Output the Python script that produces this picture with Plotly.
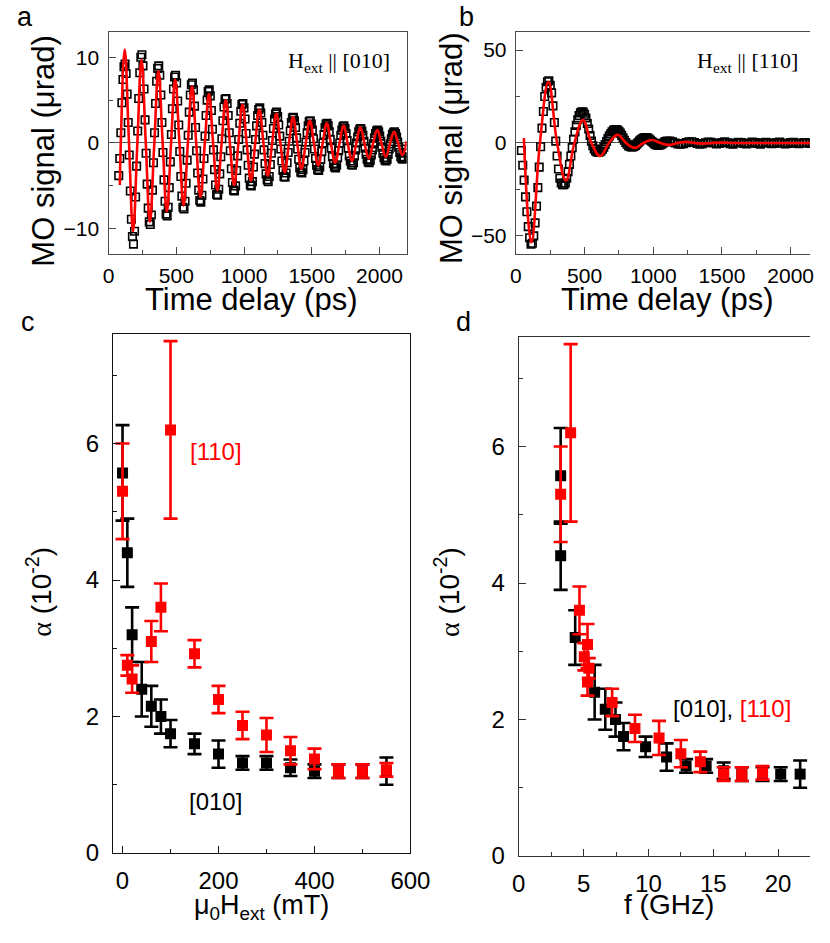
import plotly.graph_objects as go

W, H = 830, 943


def px(x):
    return x / W


def py(y):
    return 1 - y / H


# ---------------- Panel a: H_ext || [010] ----------------
a_t0 = 75.0
a_dt = 7.77
a_signal = [
    -3.8, -1.8, 1.2, 4.7, 7.4, 8.9, 9.2, 8.1, 5.7, 2.4, -1.4, -5.6, -8.9, -10.9, -11.8, -10.3,
    -6.3, -2.7, 1.4, 5.2, 8.2, 10.0, 10.3, 9.0, 6.3, 2.7, -1.2, -4.8, -7.6, -9.2, -9.5, -8.4,
    -5.5, -2.3, 1.2, 4.6, 7.2, 8.7, 9.0, 7.9, 5.6, 2.4, -1.1, -4.3, -6.8, -8.3, -8.5, -7.5,
    -5.2, -2.2, 1.0, 4.0, 6.3, 7.7, 7.9, 7.0, 4.9, 2.1, -1.0, -3.9, -6.2, -7.5, -7.7, -6.8,
    -4.7, -2.0, 0.9, 3.6, 5.6, 6.8, 7.0, 6.2, 4.3, 1.8, -0.9, -3.5, -5.5, -6.7, -6.9, -6.1,
    -4.2, -1.8, 0.8, 3.2, 5.0, 6.0, 6.2, 5.5, 3.8, 1.6, -0.8, -3.1, -4.9, -6.0, -6.1, -5.4,
    -3.6, -1.6, 0.5, 2.6, 4.2, 5.1, 5.2, 4.6, 3.2, 1.2, -0.9, -3.0, -4.6, -5.5, -5.6, -5.0,
    -3.2, -1.5, 0.4, 2.3, 3.7, 4.5, 4.6, 4.1, 2.8, 1.1, -0.8, -2.6, -4.1, -4.9, -5.0, -4.5,
    -2.8, -1.3, 0.4, 2.0, 3.2, 3.9, 4.1, 3.5, 2.4, 0.9, -0.8, -2.4, -3.6, -4.3, -4.5, -3.9,
    -2.5, -1.2, 0.3, 1.7, 2.8, 3.4, 3.6, 3.1, 2.1, 0.8, -0.7, -2.1, -3.2, -3.9, -4.0, -3.5,
    -2.3, -1.1, 0.2, 1.4, 2.4, 2.9, 3.0, 2.6, 1.8, 0.6, -0.7, -1.9, -2.9, -3.4, -3.5, -3.1,
    -2.1, -1.1, 0.1, 1.2, 2.0, 2.5, 2.6, 2.2, 1.5, 0.5, -0.7, -1.8, -2.6, -3.1, -3.2, -2.8,
    -1.9, -1.0, 0.0, 1.0, 1.8, 2.2, 2.3, 2.0, 1.3, 0.4, -0.6, -1.6, -2.4, -2.8, -2.9, -2.6,
    -1.7, -0.9, 0.0, 0.9, 1.5, 1.9, 2.0, 1.7, 1.1, 0.3, -0.6, -1.5, -2.1, -2.5, -2.6, -2.3,
    -1.5, -0.8, 0.0, 0.7, 1.3, 1.6, 1.7, 1.4, 0.9, 0.2, -0.6, -1.3, -1.9, -2.2, -2.3, -2.0,
    -1.4, -0.8, -0.1, 0.6, 1.1, 1.4, 1.5, 1.3, 0.8, 0.2, -0.5, -1.2, -1.7, -2.0, -2.1, -1.9,
    -1.3, -0.7, -0.1, 0.5, 1.0, 1.2, 1.3, 1.1, 0.7, 0.1, -0.5, -1.1, -1.6, -1.8, -1.9, -1.7,
    -1.2, -0.7,
]
a_time = [a_t0 + a_dt * i for i in range(len(a_signal))]

a_fit_time = [83, 90, 119, 150, 181, 212, 243, 274, 305, 337, 368, 399, 430, 461,
              492, 523, 554, 585, 616, 647, 678, 710, 741, 772, 803, 834, 865, 896,
              927, 958, 989, 1020, 1051, 1082, 1113, 1144, 1175, 1207, 1238, 1269,
              1300, 1331, 1362, 1393, 1424, 1455, 1486, 1517, 1548, 1580, 1611, 1642,
              1673, 1704, 1735, 1766, 1797, 1828, 1859, 1890, 1921, 1952, 1984, 2015,
              2046, 2077, 2108, 2139, 2170, 2200]
a_fit_signal = [-4.9, 0.0, 10.9, 0.3, -10.3, -0.2, 9.7, 0.2, -9.2, -0.2, 8.4, 0.1, -8.0, -0.1,
                7.4, 0.0, -7.3, -0.1, 6.6, 0.0, -6.3, -0.1, 5.7, -0.1, -5.5, -0.1, 5.0, -0.1,
                -4.9, -0.1, 4.5, -0.1, -4.4, -0.1, 3.9, -0.1, -3.8, -0.1, 3.4, -0.1,
                -3.4, -0.1, 3.0, -0.1, -3.0, -0.1, 2.6, -0.1, -2.6, -0.1, 2.3, -0.1,
                -2.3, -0.1, 2.0, -0.1, -2.1, -0.1, 1.8, -0.1, -1.8, -0.1, 1.5, -0.1,
                -1.6, -0.1, 1.3, -0.1, -1.4, 0.2]

# ---------------- Panel b: H_ext || [110] ----------------
b_early_t0 = 40.0
b_early_dt = 10.0
b_early_signal = [
    -4, -12, -20, -29, -37, -45, -51, -54.5, -54, -50,
    -43, -34, -24, -13, -2, 8, 17, 25, 30, 33,
    33.5, 31, 27, 20, 11, 1, -7, -14, -19, -21.5,
    -22.5, -22.5, -21.5, -19, -15.5, -11.5, -7, -2.5, 2, 6,
    9.5, 12.5, 14.8, 16.2, 16.8, 16.6, 15.5, 13.5, 10.5, 7.5,
    4, 1, -1.5, -3.2, -4.3, -4.8, -5, -4.8, -4.3, -3.4,
    -2.2, -0.8, 0.8, 2.4, 3.8, 5, 6, 6.8, 7.2, 7.3,
    7, 6.3, 5.3, 4.1, 2.8, 1.5, 0.3, -0.7, -1.4, -1.9,
    -2.1, -2.1, -1.8, -1.3, -0.6, 0.2, 1.0, 1.7, 2.3, 2.7,
    2.9, 2.9, 2.6, 2.1, 1.5, 0.8, 0.1, -0.5, -0.9, -1.2,
    -1.2, -1.0, -0.6, -0.1, 0.4, 0.8, 1.0,
]
b_late_t0 = 1120.0
b_late_dt = 20.0
b_late_signal = [
    1.0, 0.6, 0.0, -0.5, -0.7, -0.4, 0.2, 0.6, 0.7, 0.3,
    -0.3, -0.6, -0.4, 0.1, 0.5, 0.4, 0.0, -0.5, -0.3, 0.2,
    0.6, 0.1, -0.4, -0.6, 0.0, 0.4, 0.3, -0.2, -0.5, -0.1,
    0.5, 0.2, -0.3, -0.6, 0.1, 0.4, 0.0, -0.4, -0.2, 0.3,
    0.5, -0.1, -0.5, -0.2, 0.2, 0.4, -0.1, -0.4, 0.0, 0.3,
    0.1, -0.3, -0.2, 0.2, 0.0,
]
b_time = ([b_early_t0 + b_early_dt * i for i in range(len(b_early_signal))]
          + [b_late_t0 + b_late_dt * i for i in range(len(b_late_signal))])
b_signal = b_early_signal + b_late_signal

b_fit_time = [58, 113, 175, 237, 300, 364, 426, 488, 550, 613, 677, 740, 802, 865,
              928, 990, 1052, 1115, 1178, 1240, 1302, 1365, 1428, 1490, 1600, 1800, 2200]
b_fit_signal = [2.6, -53.5, 0.0, 32.8, 0.0, -20.2, 0.0, 12.3, 0.0, -7.0, 0.0, 4.4, 0.0, -2.6,
                0.0, 1.6, 0.0, -1.0, 0.0, 0.6, 0.0, -0.35, 0.0, 0.2, 0.0, 0.0, 0.0]

# ---------------- Panels c, d: damping ----------------
H_010 = [0, 10, 20, 40, 60, 80, 100, 150, 200, 250, 300, 350, 400, 450, 500, 550]
alpha_010 = [5.57, 4.40, 3.20, 2.40, 2.15, 2.00, 1.75, 1.60, 1.45, 1.32, 1.32, 1.25,
             1.20, 1.20, 1.20, 1.20]
err_010 = [0.70, 0.50, 0.40, 0.40, 0.30, 0.25, 0.20, 0.15, 0.20, 0.10, 0.10, 0.12,
           0.10, 0.10, 0.10, 0.20]
f_010 = [3.23, 3.23, 4.35, 5.85, 6.67, 7.46, 8.08, 9.78, 11.4, 12.9, 14.45, 15.8,
         17.2, 18.8, 20.2, 21.7]

H_110 = [0, 10, 20, 60, 80, 100, 150, 200, 250, 300, 350, 400, 450, 500, 550]
alpha_110 = [5.30, 2.75, 2.55, 3.10, 3.60, 6.20, 2.92, 2.25, 1.87, 1.73, 1.50, 1.38,
             1.20, 1.20, 1.22]
err_110 = [0.70, 0.15, 0.20, 0.30, 0.35, 1.30, 0.20, 0.20, 0.20, 0.25, 0.20, 0.15,
           0.10, 0.10, 0.10]
f_110 = [3.23, 5.40, 5.30, 5.30, 4.68, 4.00, 5.05, 7.20, 8.96, 10.82, 12.50, 14.00,
         15.80, 17.20, 18.80]

RED = "#ff0000"
SANS = "Liberation Sans, Arial, sans-serif"
SERIF = "Liberation Serif, Times New Roman, serif"

fig = go.Figure()

open_sq = dict(symbol="square-open", size=7.5, color="black",
               line=dict(width=1.6, color="black"))
# panel a
fig.add_trace(go.Scatter(x=a_time, y=a_signal, mode="markers", xaxis="x", yaxis="y",
                         marker=open_sq, showlegend=False))
fig.add_trace(go.Scatter(x=a_fit_time, y=a_fit_signal, mode="lines", xaxis="x", yaxis="y",
                         line=dict(color=RED, width=2.6, shape="spline", smoothing=1.2),
                         showlegend=False))
# panel b
fig.add_trace(go.Scatter(x=b_time, y=b_signal, mode="markers", xaxis="x2", yaxis="y2",
                         marker=open_sq, showlegend=False))
fig.add_trace(go.Scatter(x=b_fit_time, y=b_fit_signal, mode="lines", xaxis="x2", yaxis="y2",
                         line=dict(color=RED, width=2.6, shape="spline", smoothing=1.2),
                         showlegend=False))

err_style = dict(type="data", thickness=2.6, width=7)
# panel c
fig.add_trace(go.Scatter(x=H_010, y=alpha_010, mode="markers", xaxis="x3", yaxis="y3",
                         marker=dict(symbol="square", size=11, color="black"),
                         error_y=dict(array=err_010, color="black", **err_style),
                         showlegend=False))
fig.add_trace(go.Scatter(x=H_110, y=alpha_110, mode="markers", xaxis="x3", yaxis="y3",
                         marker=dict(symbol="square", size=11, color=RED),
                         error_y=dict(array=err_110, color=RED, **err_style),
                         showlegend=False))
# panel d
fig.add_trace(go.Scatter(x=f_010, y=alpha_010, mode="markers", xaxis="x4", yaxis="y4",
                         marker=dict(symbol="square", size=11, color="black"),
                         error_y=dict(array=err_010, color="black", **err_style),
                         showlegend=False))
fig.add_trace(go.Scatter(x=f_110, y=alpha_110, mode="markers", xaxis="x4", yaxis="y4",
                         marker=dict(symbol="square", size=11, color=RED),
                         error_y=dict(array=err_110, color=RED, **err_style),
                         showlegend=False))


def ax(domain, rng, dtick, mdtick, linecolor, mirror, size, standoff, **kw):
    d = dict(domain=domain, range=rng, dtick=dtick, tick0=0, ticks="inside", ticklen=7,
             tickwidth=1.2, tickcolor=linecolor,
             minor=dict(dtick=mdtick, tick0=0, ticks="inside", ticklen=4, tickwidth=1.2,
                        tickcolor=linecolor, showgrid=False),
             showline=True, linecolor=linecolor, linewidth=1.3, mirror=mirror,
             showgrid=False, zeroline=False,
             tickfont=dict(family=SANS, size=size, color="black"),
             ticklabelstandoff=standoff)
    d.update(kw)
    return d


GRAYLINE = "#4a4a4a"
layout = dict(
    width=W, height=H, margin=dict(l=0, r=0, t=0, b=0),
    paper_bgcolor="white", plot_bgcolor="white", showlegend=False,
    xaxis=ax([px(105), px(413)], [0, 2200], 500, 250, GRAYLINE, True, 21, 2,
             anchor="y"),
    yaxis=ax([py(258), py(32)], [-13, 13], 10, 5, GRAYLINE, True, 21, 4,
             anchor="x", zeroline=True, zerolinecolor="#555555", zerolinewidth=1.2),
    xaxis2=ax([px(526), 1.0], [0, 2141], 500, 250, GRAYLINE, True, 21, 2,
              anchor="y2"),
    yaxis2=ax([py(258), py(32)], [-60, 60], 50, 25, GRAYLINE, False, 21, 4,
              anchor="x2", zeroline=True, zerolinecolor="#555555", zerolinewidth=1.2),
    xaxis3=ax([px(109.5), px(417)], [-20, 600], 200, 100, "#111111", True, 24, 6,
              anchor="y3"),
    yaxis3=ax([py(865), py(339)], [0, 7.6], 2, 1, "#111111", True, 24, 8,
              anchor="x3"),
    xaxis4=ax([px(529), 1.0], [0, 22.46], 5, 2.5, "#333333", True, 24, 6,
              anchor="y4"),
    yaxis4=ax([py(868), py(342)], [0, 7.6], 2, 1, "#333333", False, 24, 8,
              anchor="x4"),
)
fig.update_layout(**layout)


def note(text, x, y, size, family=SANS, color="black", angle=0, xanchor="center",
         yanchor="middle"):
    fig.add_annotation(text=text, x=px(x), y=py(y), xref="paper", yref="paper",
                       showarrow=False, textangle=angle, xanchor=xanchor, yanchor=yanchor,
                       font=dict(family=family, size=size, color=color))


# panel letters
note("a", 19, 0, 27, yanchor="top")
note("b", 475, 0, 27, yanchor="top")
note("c", 22, 309, 27, yanchor="top")
note("d", 472, 309, 27, yanchor="top")

# panels a, b titles
note("MO signal (μrad)", 38, 153, 31, angle=-90)
note("Time delay (ps)", 252, 304, 31)
note("MO signal (μrad)", 460, 151, 31, angle=-90)
note("Time delay (ps)", 682, 304, 31)
note("H<sub>ext</sub> || [010]", 398, 63, 22, family=SERIF, xanchor="right")
note("H<sub>ext</sub> || [110]", 820, 63, 22, family=SERIF, xanchor="right")

# panels c, d titles
alpha_title = "<span style='font-family:Liberation Serif'>α</span> (10<sup>-2</sup>)"
note(alpha_title, 33, 600, 28, angle=-90)
note(alpha_title, 455, 600, 28, angle=-90)
note("μ<sub>0</sub>H<sub>ext</sub> (mT)", 263, 920, 27)
note("f (GHz)", 684, 917, 28)
note("[110]", 216, 458, 24, color=RED)
note("[010]", 215, 813, 24)
note("[010], <span style='color:#ff0000'>[110]</span>", 686, 718, 24, xanchor="left")

fig.write_html("out.html")
